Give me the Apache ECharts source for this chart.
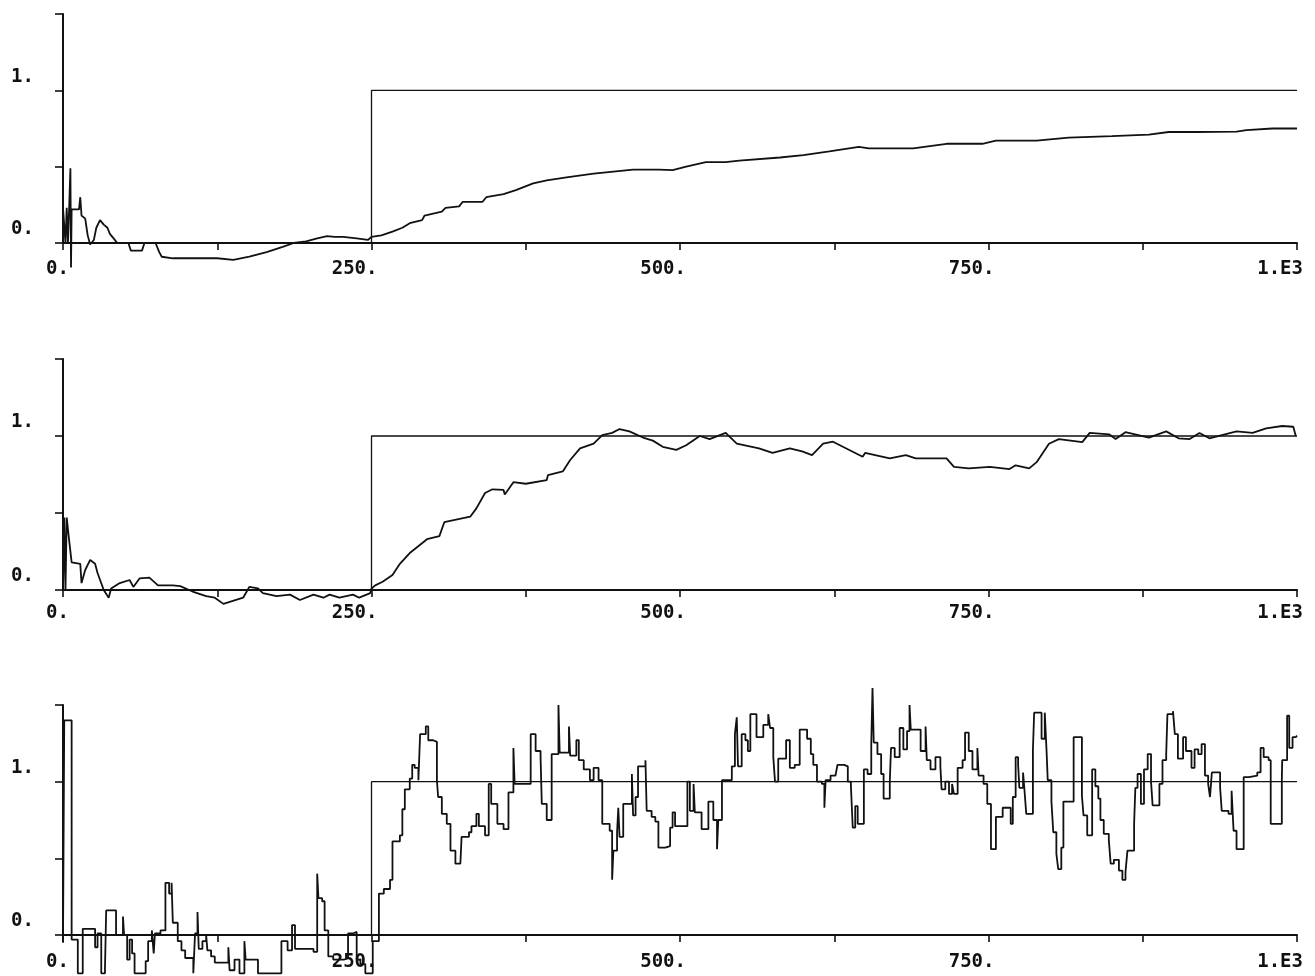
<!DOCTYPE html>
<html>
<head>
<meta charset="utf-8">
<script src="https://cdn.jsdelivr.net/npm/echarts@6/dist/echarts.min.js"></script>
<style>
  html, body { margin: 0; padding: 0; background: #fff; }
  #chart { width: 1315px; height: 976px; }
</style>
</head>
<body>
<div id="chart"></div>
<script>
// ---- data ----
const xTickLabels = {0: '0.', 250: '250.', 500: '500.', 750: '750.', 1000: '1.E3'};
const yTickLabels = {0: '0.', 1: '1.'};

// reference step input (same in all panels)
const reference = [[0, 0], [250, 0], [250, 1], [1000, 1]];

// panel 1 : slow estimate
const estimate1 = [[0,0.23],[2,0.0],[3,0.23],[4,0.0],[5,0.23],[6,0.49],[6.5,-0.16],[7,0.22],[13,0.22],[14,0.30],[15,0.18],
  [18,0.16],[20,0.05],[22,-0.01],[25,0.02],[27,0.10],[30,0.15],[33,0.12],[36,0.10],[38,0.06],[41,0.03],[44,0.0],[53,0.0],
  [55,-0.05],[64,-0.05],[66,0.0],[75,0.0],[78,-0.06],[80,-0.09],[89,-0.10],[100,-0.10],[112,-0.10],[125,-0.10],[138,-0.11],
  [151,-0.09],[165,-0.06],[178,-0.025],[187,0.0],[197,0.01],[206,0.03],[214,0.045],[220,0.04],[227,0.04],[238,0.03],[247,0.02],
  [250,0.04],[258,0.05],[267,0.074],[275,0.10],[281,0.13],[291,0.15],[293,0.18],[307,0.205],[310,0.23],[321,0.24],[324,0.27],
  [340,0.27],[343,0.30],[357,0.32],[367,0.346],[381,0.39],[392,0.41],[408,0.43],[430,0.455],[462,0.48],[483,0.48],[494,0.477],
  [505,0.50],[521,0.53],[537,0.53],[548,0.54],[581,0.56],[600,0.575],[621,0.60],[645,0.63],[653,0.62],[689,0.62],[716,0.65],
  [745,0.65],[756,0.67],[789,0.67],[815,0.69],[850,0.70],[880,0.71],[896,0.727],[918,0.727],[951,0.73],[959,0.74],[980,0.75],[1000,0.75]];

// panel 2 : faster estimate
const estimate2 = [[0,0.0],[1,0.47],[2,0.0],[3,0.47],[4,0.476],[5,0.32],[7,0.18],[14,0.17],[15,0.045],[18,0.13],[22,0.195],
  [26,0.17],[28,0.11],[33,0.0],[37,-0.05],[39,0.01],[46,0.045],[54,0.065],[57,0.02],[62,0.075],[70,0.08],[77,0.03],[89,0.03],
  [95,0.025],[105,-0.01],[116,-0.04],[123,-0.05],[130,-0.09],[146,-0.05],[151,0.02],[158,0.01],[162,-0.02],[173,-0.04],
  [184,-0.03],[192,-0.065],[203,-0.03],[211,-0.05],[216,-0.03],[224,-0.05],[235,-0.03],[240,-0.05],[249,-0.02],[250,0.01],
  [253,0.03],[259,0.054],[267,0.097],[273,0.17],[281,0.24],[295,0.33],[305,0.35],[309,0.44],[330,0.476],[335,0.53],[342,0.63],
  [348,0.654],[357,0.65],[358,0.62],[365,0.70],[375,0.69],[392,0.714],[393,0.746],[405,0.77],[411,0.844],[419,0.92],[430,0.95],
  [437,1.006],[445,1.02],[451,1.045],[459,1.03],[470,0.99],[478,0.97],[486,0.93],[497,0.91],[505,0.94],[516,1.0],[524,0.98],
  [537,1.02],[546,0.95],[564,0.92],[575,0.89],[589,0.92],[599,0.90],[607,0.876],[616,0.95],[624,0.963],[632,0.93],[648,0.865],
  [650,0.89],[670,0.855],[683,0.876],[691,0.855],[716,0.855],[722,0.80],[734,0.79],[751,0.80],[767,0.785],[772,0.81],[783,0.79],
  [789,0.83],[799,0.95],[807,0.98],[826,0.96],[832,1.02],[848,1.01],[853,0.98],[861,1.025],[880,0.99],[894,1.03],[904,0.985],
  [913,0.98],[921,1.02],[929,0.985],[951,1.03],[964,1.02],[975,1.05],[988,1.065],[997,1.06],[999,1.0]];

// panel 3 : noisy piecewise-constant estimate
const estimate3 = [[0,-0.05],[1,1.40],[7,-0.03],[12,-0.25],[16,0.04],[26,-0.08],[28,0.01],[31,-0.25],[34,-0.22],[35,0.16],
  [43,0.0],[48.6,0.12],[49.5,0.0],[52,-0.16],[54,-0.03],[56,-0.12],[58,-0.25],[67,-0.17],[69,-0.04],[72,0.03],[73.5,-0.12],
  [74.5,0.01],[79,0.03],[83,0.34],[86,0.27],[88,0.34],[89,0.08],[93,-0.04],[96,-0.1],[99,-0.15],[105.6,-0.25],[107,0.01],
  [109,0.15],[110,-0.09],[113,-0.04],[116,0.0],[117,-0.1],[120,-0.14],[123,-0.18],[134,-0.08],[135,-0.23],[139,-0.16],
  [143,-0.25],[147,-0.04],[148,-0.16],[158,-0.25],[177,-0.04],[182,-0.1],[185.6,0.065],[188,-0.09],[203,-0.11],[206,0.40],
  [207,0.24],[210,0.22],[212,0.03],[215,-0.14],[219,-0.16],[228,-0.15],[231,0.01],[235,0.02],[238,-0.16],[241,-0.19],[245,-0.25],
  [251,-0.04],[256,0.27],[260,0.30],[265,0.36],[267,0.61],[273,0.65],[275,0.82],[277,0.95],[281,1.02],[283,1.11],[285,1.09],
  [288,1.01],[289.4,1.31],[294,1.36],[296,1.27],[300,1.26],[303,1.01],[304,0.90],[307,0.79],[311,0.725],[314,0.55],[318,0.465],
  [322,0.455],[323,0.64],[329,0.67],[331,0.71],[335,0.79],[337,0.71],[342,0.65],[345,0.985],[347,0.855],[352,0.725],[357,0.69],
  [361,0.93],[365,1.22],[366,0.985],[379,1.31],[383,1.20],[387,1.16],[388,0.855],[392,0.75],[396,1.18],[401.5,1.50],[402.5,1.19],
  [410,1.36],[411,1.17],[416,1.27],[418,1.14],[422,1.08],[427,1.01],[430,1.09],[434,1.01],[437,0.725],[443,0.68],[445,0.36],
  [446,0.55],[449,0.67],[450,0.83],[451,0.64],[454,0.855],[461,1.05],[462,0.78],[464,0.90],[466,1.10],[472,1.14],[473,0.81],
  [477,0.77],[480,0.74],[482.5,0.57],[488,0.58],[492,0.70],[494,0.80],[496,0.71],[506,1.0],[508,0.81],[511,0.985],[512,0.80],
  [517.5,0.69],[523,0.87],[527,0.75],[530,0.56],[531,0.75],[534,1.01],[542,1.10],[544.5,1.31],[546,1.42],[547,1.10],[550,1.31],
  [553,1.27],[555,1.20],[557,1.44],[562,1.29],[567.5,1.37],[571.5,1.44],[573,1.35],[575.6,1.16],[577,1.0],[579.6,1.15],[586,1.27],
  [589,1.09],[593,1.11],[597,1.34],[603,1.28],[606,1.18],[608,1.11],[611,1.0],[615,0.985],[617,0.83],[618,1.01],[622,1.04],
  [626,1.03],[627.6,1.11],[633,1.10],[636,1.0],[638.5,0.97],[640,0.70],[642,0.84],[644,0.725],[649,1.08],[652,1.05],[655,1.245],
  [656,1.61],[657,1.255],[660,1.18],[663,1.05],[665,0.89],[670,1.0],[671,1.22],[674,1.16],[678,1.35],[681,1.21],[684,1.33],
  [686,1.50],[687,1.34],[695,1.20],[699,1.36],[700,1.14],[703,1.08],[707,1.16],[711,1.10],[712,0.95],[715,1.0],[718,0.92],
  [720.5,0.985],[722,0.92],[725,1.09],[729,1.14],[731,1.32],[734,1.20],[737,1.08],[741,1.22],[742,1.04],[746,0.985],[749,0.855],
  [752,0.56],[756,0.77],[761.5,0.83],[768,0.725],[769.7,0.90],[772,1.16],[774,1.11],[775,0.96],[778,1.06],[779,0.96],[780.6,0.79],
  [786,1.21],[787,1.45],[793,1.28],[795.6,1.45],[797,1.21],[798,1.01],[801,0.87],[802.5,0.67],[805,0.53],[806.5,0.43],[809,0.57],
  [810.7,0.87],[819,1.29],[825.7,0.91],[827,0.78],[830,0.65],[834,1.08],[836.6,0.97],[839,0.89],[840.7,0.75],[843.4,0.66],
  [847.5,0.62],[849,0.465],[851.6,0.49],[855.7,0.42],[858.5,0.36],[861,0.41],[862.6,0.55],[868,0.725],[869,0.96],[870.8,1.05],
  [873.5,0.855],[876,1.08],[879,1.18],[881.7,1.0],[883,0.845],[888.5,0.985],[891,1.14],[894,1.18],[895,1.44],[899.5,1.46],
  [901,1.31],[903.5,1.15],[907.7,1.29],[910,1.20],[914.5,1.09],[917,1.21],[920,1.18],[922.7,1.245],[925.4,1.04],[928,0.985],
  [929.5,0.90],[931,1.06],[937.7,0.96],[939,0.81],[944.5,0.79],[947,0.94],[948.6,0.68],[951,0.56],[956.8,1.03],[961,1.04],
  [967.8,1.06],[970.5,1.22],[973,1.16],[977,1.14],[978.7,0.725],[987.7,1.01],[988,1.14],[992,1.43],[993.7,1.22],[996.4,1.29],
  [999,1.30],[1000,1.30]];

// ---- layout ----
const panels = [
  {top: 14, height: 229, xMargin: 17, data: estimate1, step: false},
  {top: 359, height: 231, xMargin: 14, data: estimate2, step: false},
  {top: 705, height: 230, xMargin: 18, data: estimate3, step: 'end'}
];
const FONT = '"DejaVu Sans Mono", monospace';
const INK = '#111';

const grids = [], xAxes = [], yAxes = [], series = [];
panels.forEach((p, i) => {
  grids.push({left: 63, width: 1234, top: p.top, height: p.height, containLabel: false});
  xAxes.push({
    type: 'value', gridIndex: i, min: 0, max: 1000, interval: 125,
    axisLine: {show: true, onZero: false, lineStyle: {color: INK, width: 2}},
    axisTick: {show: true, inside: false, length: 7, lineStyle: {color: INK, width: 1.6}},
    splitLine: {show: false},
    axisLabel: {
      show: true, margin: p.xMargin, color: INK, fontFamily: FONT, fontSize: 19, fontWeight: 'bold',
      align: 'right', padding: [0, -6, 0, 0],
      showMinLabel: true, showMaxLabel: true,
      formatter: v => (xTickLabels[v] !== undefined ? xTickLabels[v] : '')
    }
  });
  yAxes.push({
    type: 'value', gridIndex: i, min: 0, max: 1.5, interval: 0.5,
    axisLine: {show: true, onZero: false, lineStyle: {color: INK, width: 2}},
    axisTick: {show: true, inside: false, length: 8, lineStyle: {color: INK, width: 1.6}},
    splitLine: {show: false},
    axisLabel: {
      show: true, margin: 29, color: INK, fontFamily: FONT, fontSize: 19, fontWeight: 'bold',
      verticalAlign: 'bottom', padding: [0, 0, 4, 0],
      formatter: v => (yTickLabels[v] !== undefined ? yTickLabels[v] : '')
    }
  });
  series.push({
    type: 'line', xAxisIndex: i, yAxisIndex: i, data: reference,
    symbol: 'none', clip: false, silent: true,
    lineStyle: {color: INK, width: 1.3}
  });
  series.push({
    type: 'line', xAxisIndex: i, yAxisIndex: i, data: p.data,
    symbol: 'none', clip: false, silent: true, step: p.step,
    lineStyle: {color: INK, width: 1.8}
  });
});

const chart = echarts.init(document.getElementById('chart'), null, {renderer: 'canvas'});
chart.setOption({
  backgroundColor: '#fff',
  animation: false,
  grid: grids,
  xAxis: xAxes,
  yAxis: yAxes,
  series: series
});
</script>
</body>
</html>
